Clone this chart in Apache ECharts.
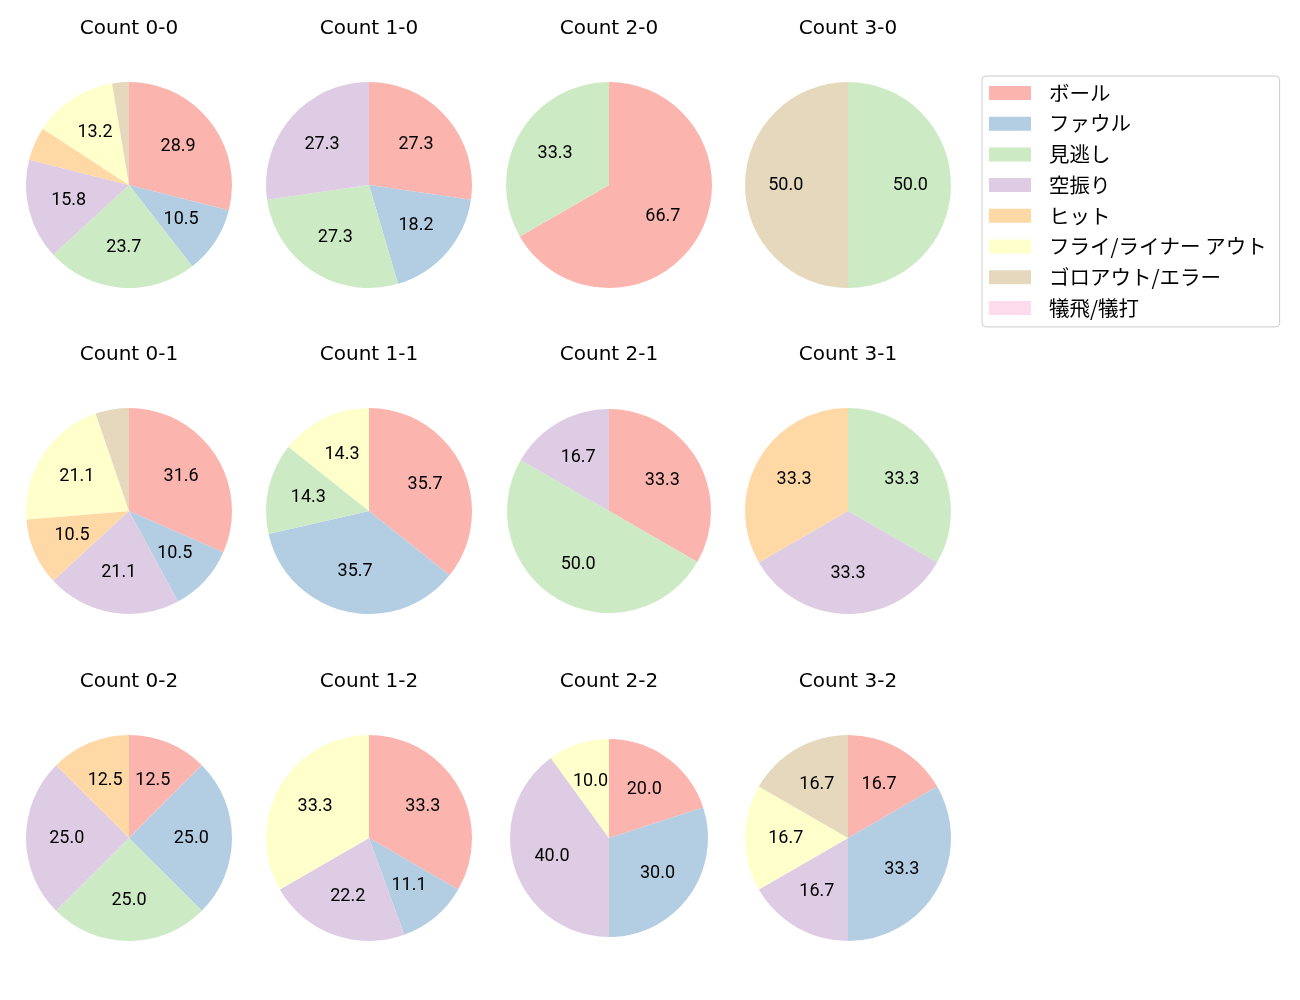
<!DOCTYPE html>
<html>
<head>
<meta charset="utf-8">
<script src="https://cdn.jsdelivr.net/npm/echarts@6/dist/echarts.min.js"></script>
<style>
  html, body { margin: 0; padding: 0; background: #fff; }
  #chart { width: 1300px; height: 1000px; }
</style>
</head>
<body>
<div id="chart"></div>
<script>
// 球種の結果カテゴリ
var categories = ['ボール', 'ファウル', '見逃し', '空振り', 'ヒット', 'フライ/ライナー アウト', 'ゴロアウト/エラー', '犠飛/犠打'];
var colors = ['#fbb4ae', '#b3cde3', '#ccebc5', '#decbe4', '#fed9a6', '#ffffcc', '#e5d8bd', '#fddaec'];

// カウントごとの件数 (categories の順)
var titles = ['Count 0-0', 'Count 1-0', 'Count 2-0', 'Count 3-0',
              'Count 0-1', 'Count 1-1', 'Count 2-1', 'Count 3-1',
              'Count 0-2', 'Count 1-2', 'Count 2-2', 'Count 3-2'];
var count00 = [11, 4, 9, 6, 2, 5, 1, 0];
var count10 = [3, 2, 3, 3, 0, 0, 0, 0];
var count20 = [2, 0, 1, 0, 0, 0, 0, 0];
var count30 = [0, 0, 1, 0, 0, 0, 1, 0];
var count01 = [6, 2, 0, 4, 2, 4, 1, 0];
var count11 = [5, 5, 2, 0, 0, 2, 0, 0];
var count21 = [2, 0, 3, 1, 0, 0, 0, 0];
var count31 = [0, 0, 1, 1, 1, 0, 0, 0];
var count02 = [1, 2, 2, 2, 1, 0, 0, 0];
var count12 = [3, 1, 0, 2, 0, 3, 0, 0];
var count22 = [2, 3, 0, 4, 0, 1, 0, 0];
var count32 = [1, 2, 0, 1, 0, 1, 1, 0];
var counts = [count00, count10, count20, count30,
              count01, count11, count21, count31,
              count02, count12, count22, count32];

// レイアウト
var colX = [129, 369, 609, 848];
var rowY = [185, 511, 838];
var radius = [103, 103, 103, 103,
              103, 103, 102, 103,
              103, 103, 99, 103];
var cjk = '"Noto Sans CJK JP", sans-serif';

var title = [];
var series = [];
counts.forEach(function (vals, i) {
  var cx = colX[i % 4], cy = rowY[Math.floor(i / 4)], R = radius[i];
  var total = vals.reduce(function (a, b) { return a + b; }, 0);
  var data = vals.map(function (v, k) { return { name: categories[k], value: v }; });

  title.push({
    text: titles[i],
    left: cx,
    top: cy - 166,
    textAlign: 'center',
    padding: 0,
    textStyle: { fontFamily: '"DejaVu Sans", sans-serif', fontSize: 20, fontWeight: 'normal', color: '#000' }
  });

  // 扇形
  series.push({
    type: 'pie',
    center: [cx, cy],
    radius: [0, R],
    startAngle: 90,
    clockwise: true,
    label: { show: false },
    labelLine: { show: false },
    itemStyle: { borderWidth: 0 },
    emphasis: { disabled: true },
    data: data
  });

  // ラベル用の透明な輪
  series.push({
    type: 'pie',
    center: [cx, cy],
    radius: [R * 0.15, R],
    startAngle: 90,
    clockwise: true,
    silent: true,
    legendHoverLink: false,
    itemStyle: { color: 'rgba(0,0,0,0)', borderWidth: 0 },
    label: {
      show: true,
      position: 'inside',
      fontFamily: 'Roboto, sans-serif',
      fontSize: 18,
      color: '#000',
      formatter: function (p) {
        var pct = p.value / total * 100;
        return pct >= 10 ? pct.toFixed(1) : '';
      }
    },
    labelLine: { show: false },
    emphasis: { disabled: true },
    data: data
  });
});

var option = {
  animation: false,
  color: colors,
  title: title,
  legend: {
    orient: 'vertical',
    left: 982,
    top: 76,
    data: categories,
    icon: 'rect',
    itemWidth: 42,
    itemHeight: 14,
    itemGap: 8.7,
    padding: [6, 13, 8, 7],
    backgroundColor: '#fff',
    borderColor: '#cccccc',
    borderWidth: 1,
    borderRadius: 4,
    selectedMode: false,
    textStyle: { fontFamily: cjk, fontSize: 20.5, color: '#000', lineHeight: 22, padding: [0, 0, 0, 13] }
  },
  series: series
};

var myChart = echarts.init(document.getElementById('chart'));
myChart.setOption(option);
</script>
</body>
</html>
